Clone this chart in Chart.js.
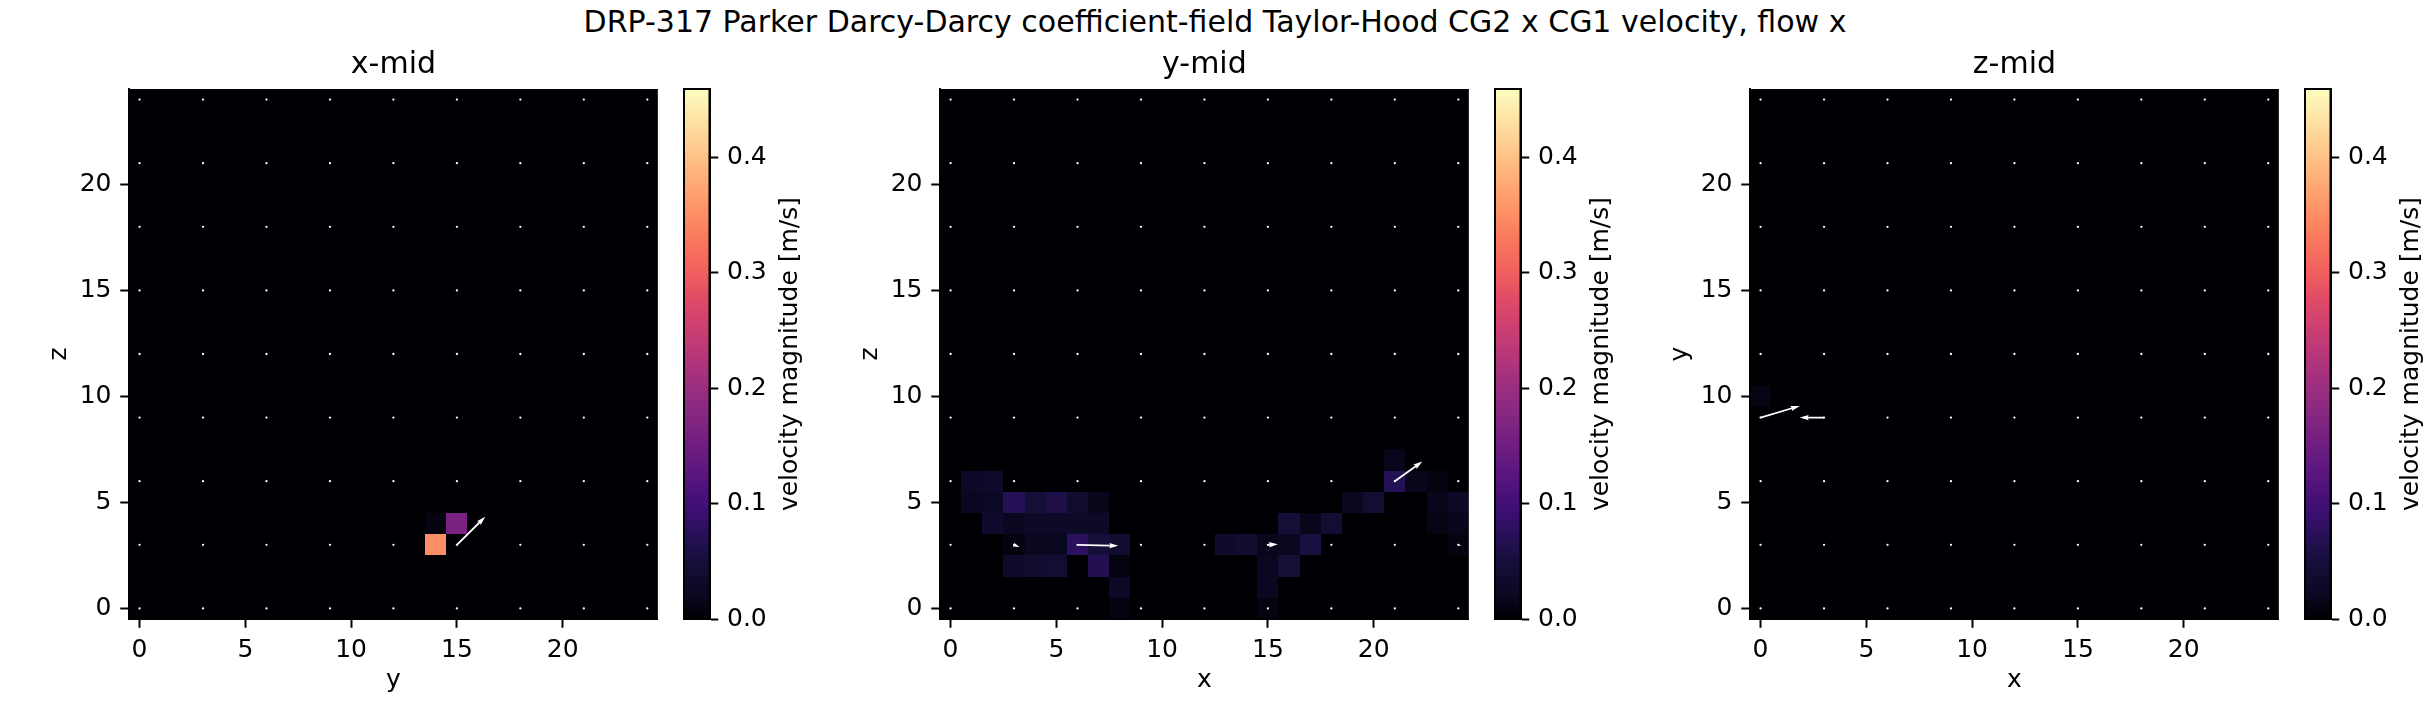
<!DOCTYPE html>
<html><head><meta charset="utf-8">
<script src="https://cdn.jsdelivr.net/npm/chart.js@4/dist/chart.umd.min.js"></script>
<style>
html,body{margin:0;padding:0;background:#fff;width:2430px;height:702px;overflow:hidden;}
canvas{position:absolute;}
#sup{position:absolute;left:0;width:2430px;top:4px;text-align:center;font-family:"DejaVu Sans";font-size:30px;line-height:36px;color:#000;white-space:nowrap;}
</style></head><body>
<div id="sup"></div>
<script>
// ---------------- data ----------------
const suptitle = 'DRP-317 Parker Darcy-Darcy coefficient-field Taylor-Hood CG2 x CG1 velocity, flow x';
const panelTitles = ['x-mid', 'y-mid', 'z-mid'];
const xAxisLabels = ['y', 'x', 'x'];
const yAxisLabels = ['z', 'z', 'y'];
const gridN = 25;
const axisTicks = [0, 5, 10, 15, 20];
const cbarTicks = [0.0, 0.1, 0.2, 0.3, 0.4];
const vmax = 0.459;
const cbarLabel = 'velocity magnitude [m/s]';
const quiverStep = 3;

// non-zero cells: [col, row, |u|]
const xmidCells = [[14, 3, 0.349], [15, 4, 0.164], [14, 4, 0.008]];
const ymidCells = [
  [21, 7, 0.016],
  [1, 6, 0.024], [2, 6, 0.031], [21, 6, 0.069], [22, 6, 0.016], [23, 6, 0.008],
  [1, 5, 0.020], [2, 5, 0.022], [3, 5, 0.069], [4, 5, 0.047], [5, 5, 0.060], [6, 5, 0.036], [7, 5, 0.016],
  [19, 5, 0.020], [20, 5, 0.041], [23, 5, 0.016], [24, 5, 0.024],
  [2, 4, 0.033], [3, 4, 0.020], [4, 4, 0.028], [5, 4, 0.028], [6, 4, 0.028], [7, 4, 0.028],
  [16, 4, 0.047], [17, 4, 0.016], [18, 4, 0.041], [23, 4, 0.010], [24, 4, 0.016],
  [3, 3, 0.008], [4, 3, 0.020], [5, 3, 0.020], [6, 3, 0.076], [7, 3, 0.050], [8, 3, 0.038],
  [13, 3, 0.033], [14, 3, 0.038], [15, 3, 0.016], [16, 3, 0.020], [17, 3, 0.054], [24, 3, 0.008],
  [3, 2, 0.033], [4, 2, 0.036], [5, 2, 0.043], [7, 2, 0.067], [8, 2, 0.008], [15, 2, 0.020], [16, 2, 0.047],
  [8, 1, 0.024], [15, 1, 0.020],
  [8, 0, 0.008], [15, 0, 0.008]
];
const zmidCells = [[0, 10, 0.010]];

// quiver arrows: [x, y, u, v] (in axis units as drawn)
const xmidArrows = [[15, 3, 1.34, 1.32]];
const ymidArrows = [[3, 3, 0.26, -0.10], [6, 3, 1.93, -0.05], [15, 3, 0.47, 0.03], [21, 6, 1.30, 0.93], [24, 3, 0.13, -0.03]];
const zmidArrows = [[0, 9, 1.85, 0.55], [3, 9, -1.15, 0.0]];

// ---------------- colormap (magma) ----------------
const magmaStops = [
  [0.00, [0, 0, 4]], [0.05, [11, 9, 36]], [0.10, [20, 14, 54]], [0.15, [36, 16, 84]],
  [0.20, [59, 15, 112]], [0.25, [81, 18, 124]], [0.30, [100, 26, 128]], [0.35, [120, 33, 129]],
  [0.40, [140, 41, 129]], [0.45, [161, 48, 126]], [0.50, [183, 55, 121]], [0.55, [204, 63, 113]],
  [0.60, [222, 73, 104]], [0.65, [240, 94, 94]], [0.70, [247, 112, 92]], [0.75, [252, 136, 98]],
  [0.80, [254, 159, 109]], [0.85, [254, 183, 126]], [0.90, [254, 207, 146]], [0.95, [253, 230, 168]],
  [1.00, [252, 253, 191]]
];
function magma(t) {
  t = Math.max(0, Math.min(1, t));
  for (let i = 1; i < magmaStops.length; i++) {
    const [t1, c1] = magmaStops[i];
    const [t0, c0] = magmaStops[i - 1];
    if (t <= t1) {
      const f = (t - t0) / (t1 - t0);
      const c = c0.map((v, k) => Math.round(v + (c1[k] - v) * f));
      return `rgb(${c[0]},${c[1]},${c[2]})`;
    }
  }
  return 'rgb(252,253,191)';
}

// ---------------- layout ----------------
document.getElementById('sup').textContent = suptitle;
const FONT = 'DejaVu Sans';
const tickFont = { family: FONT, size: 25, lineHeight: 1.2 };
const axesLefts = [129, 940, 1750];
const cbarLefts = [683, 1494, 2304];
const AX = 530;          // axes size
const CANVAS_TOP = 30;
const CANVAS_H = 672;
const TOPBLOCK = 59;     // title block height inside canvas
const YAXIS_W = 130;
const CB_W = 26.5;
const CB_CANVAS_W = 150;
const TICK_LEN = 8.75;
const TICK_W = 2;

function makeCanvas(left, width) {
  const c = document.createElement('canvas');
  c.width = width; c.height = CANVAS_H;
  c.style.left = left + 'px'; c.style.top = CANVAS_TOP + 'px';
  c.style.width = width + 'px'; c.style.height = CANVAS_H + 'px';
  document.body.appendChild(c);
  return c;
}

const heatPlugin = {
  id: 'heat',
  beforeDraw(chart) {
    const cells = chart.options.plugins.heat.cells;
    const grid = [];
    for (let j = 0; j < gridN; j++) grid.push(new Array(gridN).fill(0));
    cells.forEach(([i, j, v]) => { grid[j][i] = v; });
    const { ctx, chartArea: a, scales: { x, y } } = chart;
    ctx.save();
    ctx.beginPath(); ctx.rect(a.left, a.top, a.width, a.height); ctx.clip();
    for (let j = 0; j < gridN; j++) {
      for (let i = 0; i < gridN; i++) {
        const x0 = Math.round(x.getPixelForValue(i - 0.5));
        const x1 = Math.round(x.getPixelForValue(i + 0.5));
        const y0 = Math.round(y.getPixelForValue(j + 0.5));
        const y1 = Math.round(y.getPixelForValue(j - 0.5));
        ctx.fillStyle = magma(grid[j][i] / vmax);
        ctx.fillRect(x0, y0, x1 - x0, y1 - y0);
      }
    }
    ctx.restore();
  }
};

function drawArrow(ctx, px0, py0, px1, py1, w) {
  const dx = px1 - px0, dy = py1 - py0;
  const L = Math.hypot(dx, dy);
  if (L < 0.5) return;
  const ux = dx / L, uy = dy / L, nx = -uy, ny = ux;
  let hl = 5 * w, hw = 3 * w, hal = 4.5 * w, sw = w;
  if (L < hal) { const s = L / hal; hl *= s; hw *= s; hal *= s; sw *= s; }
  const pts = [
    [0, -sw / 2], [L - hal, -sw / 2], [L - hl, -hw / 2], [L, 0],
    [L - hl, hw / 2], [L - hal, sw / 2], [0, sw / 2]
  ];
  ctx.beginPath();
  pts.forEach(([a, b], k) => {
    const X = px0 + ux * a + nx * b, Y = py0 + uy * a + ny * b;
    if (k === 0) ctx.moveTo(X, Y); else ctx.lineTo(X, Y);
  });
  ctx.closePath();
  ctx.fill();
}

const quiverPlugin = {
  id: 'quiver',
  afterDatasetsDraw(chart) {
    const arrows = chart.options.plugins.quiver.arrows;
    const { ctx, chartArea: a, scales: { x, y } } = chart;
    ctx.save();
    ctx.beginPath(); ctx.rect(a.left, a.top, a.width, a.height); ctx.clip();
    ctx.fillStyle = '#ffffff';
    arrows.forEach(([x0, y0, u, v]) => {
      drawArrow(ctx, x.getPixelForValue(x0), y.getPixelForValue(y0),
        x.getPixelForValue(x0 + u), y.getPixelForValue(y0 + v), 1.8);
    });
    ctx.restore();
  }
};

const dots = [];
for (let i = 0; i < gridN; i += quiverStep) for (let j = 0; j < gridN; j += quiverStep) dots.push({ x: i, y: j });

function axisCfg(isX, label) {
  return {
    type: 'linear', min: -0.5, max: gridN - 0.5,
    afterBuildTicks: s => { s.ticks = axisTicks.map(v => ({ value: v })); },
    afterFit: s => { if (isX) s.height = CANVAS_H - TOPBLOCK - AX; else s.width = YAXIS_W; },
    ticks: { callback: v => String(v), font: tickFont, color: '#000', padding: isX ? 7.5 : 8.75, maxRotation: 0, autoSkip: false },
    grid: { display: true, drawOnChartArea: false, drawTicks: true, tickLength: TICK_LEN, tickColor: '#000', tickWidth: TICK_W },
    border: { display: true, color: '#000', width: TICK_W },
    title: {
      display: true, text: label, color: '#000', font: tickFont,
      padding: isX ? { top: 0, bottom: 7 } : { top: 45, bottom: 0 }
    }
  };
}

const allCells = [xmidCells, ymidCells, zmidCells];
const allArrows = [xmidArrows, ymidArrows, zmidArrows];

for (let k = 0; k < 3; k++) {
  const cv = makeCanvas(axesLefts[k] - YAXIS_W, YAXIS_W + AX);
  new Chart(cv, {
    type: 'scatter',
    data: { datasets: [{ data: dots, pointRadius: 1.15, pointBackgroundColor: '#ffffff', pointBorderWidth: 0, pointHoverRadius: 0 }] },
    options: {
      responsive: false, animation: false, events: [],
      layout: { padding: 0 },
      plugins: {
        legend: { display: false }, tooltip: { enabled: false },
        title: { display: true, text: panelTitles[k], color: '#000', fullSize: false,
          font: { family: FONT, size: 30, weight: 'normal', lineHeight: 1.2 }, padding: { top: 17, bottom: 6 } },
        heat: { cells: allCells[k] },
        quiver: { arrows: allArrows[k] }
      },
      scales: { x: axisCfg(true, xAxisLabels[k]), y: axisCfg(false, yAxisLabels[k]) }
    },
    plugins: [heatPlugin, quiverPlugin]
  });

  // colorbar
  const cb = makeCanvas(cbarLefts[k], CB_CANVAS_W);
  new Chart(cb, {
    type: 'bar',
    data: { labels: [''], datasets: [{
      data: [vmax], barPercentage: 1, categoryPercentage: 1, borderWidth: 0,
      backgroundColor: c => {
        const a = c.chart.chartArea;
        if (!a) return '#000';
        const g = c.chart.ctx.createLinearGradient(0, a.bottom, 0, a.top);
        for (let s = 0; s <= 64; s++) g.addColorStop(s / 64, magma(s / 64));
        return g;
      }
    }] },
    options: {
      responsive: false, animation: false, events: [],
      layout: { padding: { top: TOPBLOCK, bottom: CANVAS_H - TOPBLOCK - AX, left: 0, right: 0 } },
      plugins: { legend: { display: false }, tooltip: { enabled: false }, title: { display: false } },
      scales: {
        x: { display: false },
        y: {
          position: 'right', min: 0, max: vmax,
          afterBuildTicks: s => { s.ticks = cbarTicks.map(v => ({ value: v })); },
          afterFit: s => { s.width = CB_CANVAS_W - CB_W; },
          ticks: { callback: v => Number(v).toFixed(1), font: tickFont, color: '#000', padding: 8.75 },
          grid: { display: true, drawOnChartArea: false, drawTicks: true, tickLength: TICK_LEN, tickColor: '#000', tickWidth: TICK_W },
          border: { display: true, color: '#000', width: TICK_W }
        }
      }
    },
    plugins: [{
      id: 'cbdeco',
      afterDraw(chart) {
        const { ctx, chartArea: a } = chart;
        ctx.save();
        ctx.strokeStyle = '#000'; ctx.lineWidth = TICK_W;
        ctx.strokeRect(a.left + 1, a.top, a.width - 1, a.height);
        ctx.translate(107, (a.top + a.bottom) / 2);
        ctx.rotate(-Math.PI / 2);
        ctx.fillStyle = '#000';
        ctx.font = `25px "${FONT}"`;
        ctx.textAlign = 'center'; ctx.textBaseline = 'middle';
        ctx.fillText(cbarLabel, 0, 0);
        ctx.restore();
      }
    }]
  });
}
</script>
</body></html>
